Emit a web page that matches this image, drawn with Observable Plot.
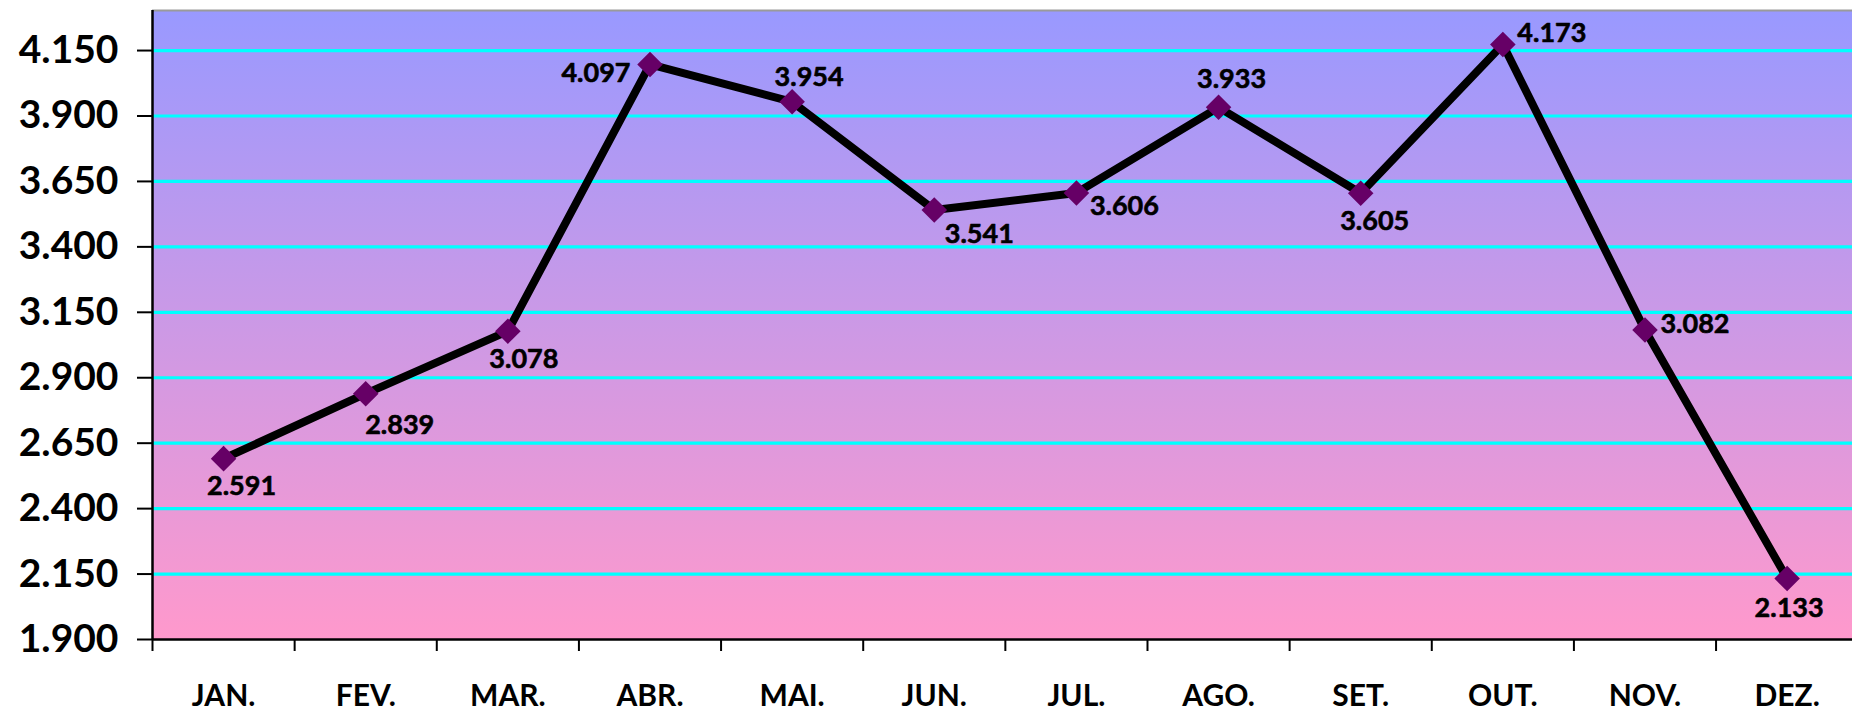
<!DOCTYPE html>
<html>
<head>
<meta charset="utf-8">
<script src="https://cdn.jsdelivr.net/npm/d3@7"></script>
<script src="https://cdn.jsdelivr.net/npm/@observablehq/plot@0.6"></script>
<style>
  html, body { margin: 0; padding: 0; background: #fff; }
  #chart svg { display: block; }
</style>
</head>
<body>
<div id="chart"></div>
<script>
// ---- data ----
const months = ["JAN.", "FEV.", "MAR.", "ABR.", "MAI.", "JUN.", "JUL.", "AGO.", "SET.", "OUT.", "NOV.", "DEZ."];
const values = [2591, 2839, 3078, 4097, 3954, 3541, 3606, 3933, 3605, 4173, 3082, 2133];
const yTicks = [1900, 2150, 2400, 2650, 2900, 3150, 3400, 3650, 3900, 4150];

// label nudges (style only): [dx, dy] from marker centre
const labelNudge = [[18, 28], [34, 32], [16, 28], [-54, 9], [17, -24], [45, 24], [48, 13], [13, -28], [14, 28], [49, -11], [50, -6], [2, 30]];

const ptBR = d3.formatLocale({decimal: ",", thousands: ".", grouping: [3], currency: ["R$", ""]});
const fmt = ptBR.format(",d");

const rows = months.map((m, i) => ({month: m, i, pos: i + 0.5, value: values[i]}));

const defsMark = () => {
  const g = d3.create("svg:g");
  const grad = g.append("defs").append("linearGradient")
    .attr("id", "bg").attr("x1", 0).attr("y1", 0).attr("x2", 0).attr("y2", 1);
  grad.append("stop").attr("offset", "0%").attr("stop-color", "#9999FF");
  grad.append("stop").attr("offset", "100%").attr("stop-color", "#FF99CC");
  return g.node();
};

const labelMarks = rows.map((r, i) => Plot.text([r], {
  x: "pos", y: "value", text: d => fmt(d.value),
  dx: labelNudge[i][0], dy: labelNudge[i][1],
  textAnchor: "middle", lineAnchor: "middle",
  fontSize: 27, fontWeight: "bold", fill: "black", stroke: "black", strokeWidth: 0.6
}));

const chart = Plot.plot({
  width: 1852,
  height: 714,
  marginLeft: 152,
  marginRight: 0,
  marginTop: 10,
  marginBottom: 75,
  style: {fontFamily: "Lato, 'Open Sans', sans-serif", background: "white", color: "black", overflow: "hidden"},
  x: {type: "linear", domain: [0, months.length], range: [152, 1857.7], label: null},
  y: {domain: [1900, 4303], label: null},
  marks: [
    defsMark,
    Plot.frame({fill: "url(#bg)", stroke: "none"}),
    Plot.gridY({ticks: yTicks.slice(1), stroke: "#00FFFF", strokeOpacity: 1, strokeWidth: 3.2}),
    Plot.ruleY([4303], {stroke: "#9a9a9a", strokeWidth: 2}),
    Plot.axisY({ticks: yTicks, tickSize: 15, tickPadding: 19, tickFormat: fmt,
      fontSize: 39, fontWeight: "bold", strokeWidth: 2, label: null}),
    Plot.axisX({ticks: d3.range(0, months.length + 1), tickSize: 12, tickFormat: () => "",
      strokeWidth: 2, label: null}),
    Plot.axisX({ticks: rows.map(r => r.pos), tickSize: 0, tickPadding: 57,
      tickFormat: d => months[Math.floor(d)], lineAnchor: "middle",
      fontSize: 30, fontWeight: "bold", label: null}),
    Plot.ruleX([0], {stroke: "black", strokeWidth: 2.5}),
    Plot.ruleY([1900], {stroke: "black", strokeWidth: 2.5}),
    Plot.line(rows, {x: "pos", y: "value", stroke: "black", strokeWidth: 8, strokeLinejoin: "miter"}),
    Plot.dot(rows, {x: "pos", y: "value", symbol: "diamond2", r: 11.5, fill: "#660066", stroke: "none"}),
    ...labelMarks
  ]
});

document.getElementById("chart").appendChild(chart);
</script>
</body>
</html>
